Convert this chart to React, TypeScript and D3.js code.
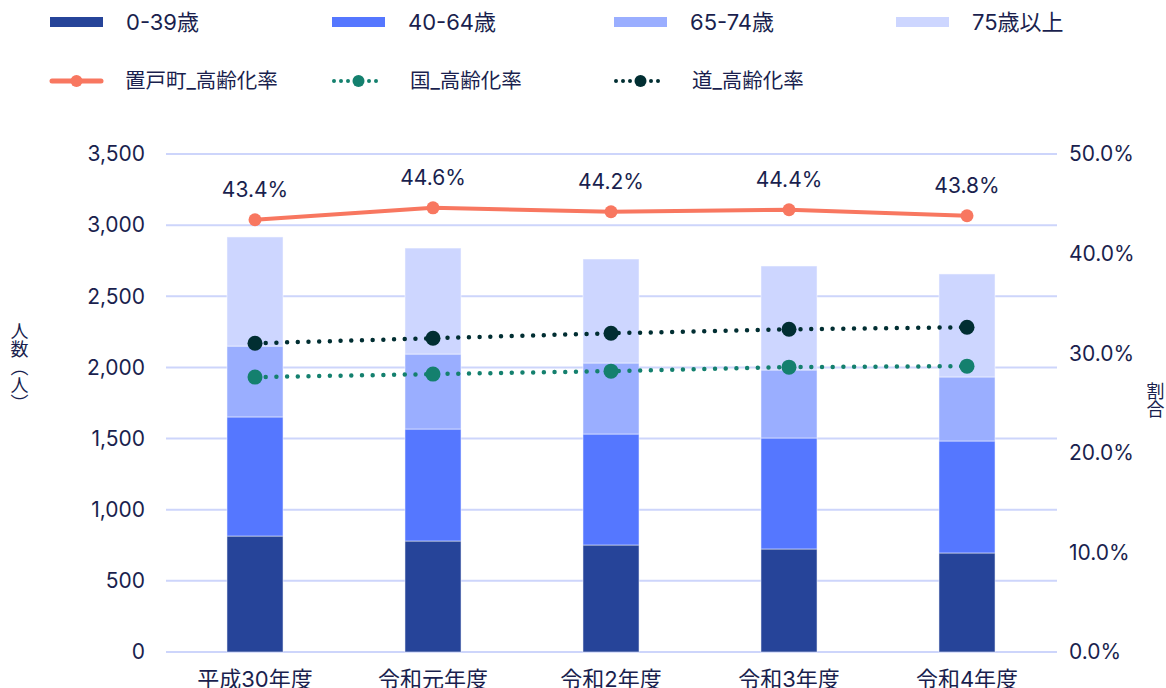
import React from "react";
import * as d3 from "d3";

const years = ["平成30年度", "令和元年度", "令和2年度", "令和3年度", "令和4年度"];
const age0_39 = [815, 780, 752, 724, 696];
const age40_64 = [837, 787, 780, 780, 787];
const age65_74 = [498, 527, 499, 478, 450];
const age75plus = [767, 745, 731, 731, 724];
const rateTown = [43.4, 44.6, 44.2, 44.4, 43.8];
const rateNation = [27.6, 27.9, 28.2, 28.6, 28.7];
const rateHokkaido = [31.0, 31.5, 32.0, 32.4, 32.6];
const leftTicks = [0, 500, 1000, 1500, 2000, 2500, 3000, 3500];
const rightTicks = [0, 10, 20, 30, 40, 50];

const barKeys = ["0-39歳", "40-64歳", "65-74歳", "75歳以上"];
const barColors = ["#264499", "#5577ff", "#9aaeff", "#cdd6ff"];
const lineNames = ["置戸町_高齢化率", "国_高齢化率", "道_高齢化率"];
const lineColors = ["#f87760", "#14806e", "#012e32"];

const W = 1166;
const H = 688;
const textColor = "#1a1f4e";
const font = "Inter, 'Noto Sans CJK JP', sans-serif";

export default function App() {
  const x = d3.scaleBand().domain(years).range([166, 1056]).paddingInner(0.685).paddingOuter(0.3425);
  const yL = d3.scaleLinear().domain([0, 3500]).range([652, 154]);
  const yR = d3.scaleLinear().domain([0, 50]).range([652, 154]);

  const rows = years.map((yr, i) => ({
    year: yr,
    [barKeys[0]]: age0_39[i],
    [barKeys[1]]: age40_64[i],
    [barKeys[2]]: age65_74[i],
    [barKeys[3]]: age75plus[i],
  }));
  const stacked = d3.stack<any>().keys(barKeys)(rows);

  const lines = [rateTown, rateNation, rateHokkaido];
  const cx = (i: number) => (x(years[i]) as number) + x.bandwidth() / 2;
  const lineGen = d3
    .line<number>()
    .x((_, i) => cx(i))
    .y((d) => yR(d));

  const fmt = d3.format(",");

  return (
    <svg width={W} height={H} style={{ position: "absolute", left: 0, top: 0 }} fontFamily={font}>
      {/* legend row 1 */}
      {barKeys.map((k, i) => (
        <g key={k} transform={`translate(${50 + i * 282},22)`}>
          <rect x={0} y={-5} width={53} height={10} fill={barColors[i]} />
          <text x={76} y={0} dy="0.35em" fontSize={22} fill={textColor}>
            {k}
          </text>
        </g>
      ))}
      {/* legend row 2 */}
      {lineNames.map((k, i) => (
        <g key={k} transform={`translate(${50 + i * 282},81)`}>
          <line
            x1={2}
            x2={51}
            y1={0}
            y2={0}
            stroke={lineColors[i]}
            strokeWidth={i === 0 ? 5 : 4}
            strokeLinecap="round"
            strokeDasharray={i === 0 ? undefined : "0 7"}
          />
          <circle cx={26.5} cy={0} r={6} fill={lineColors[i]} />
          <text x={i === 0 ? 75 : 78} y={0} dy="0.35em" fontSize={20.5} fill={textColor}>
            {k}
          </text>
        </g>
      ))}

      {/* grid */}
      {leftTicks.map((t) => (
        <line key={t} x1={166} x2={1057} y1={yL(t)} y2={yL(t)} stroke="#cdd5fb" strokeWidth={2} />
      ))}
      {leftTicks.map((t) => (
        <text key={"l" + t} x={145} y={yL(t)} dy="0.35em" textAnchor="end" fontSize={21} fill={textColor}>
          {fmt(t)}
        </text>
      ))}
      {rightTicks.map((t) => (
        <text key={"r" + t} x={1069} y={yR(t)} dy="0.35em" textAnchor="start" fontSize={21} fill={textColor}>
          {t.toFixed(1) + "%"}
        </text>
      ))}

      {/* axis titles */}
      <text x={18} y={367} fontSize={18} fill={textColor} textAnchor="middle" style={{ writingMode: "vertical-rl" } as any}>
        人数（人）
      </text>
      <text x={1154} y={400} fontSize={18} fill={textColor} textAnchor="middle" style={{ writingMode: "vertical-rl" } as any}>
        割合
      </text>

      {/* bars */}
      {stacked.map((s, si) => (
        <g key={s.key} fill={barColors[si]}>
          {s.map((d: any, i: number) => (
            <rect
              key={i}
              x={x(years[i])}
              width={x.bandwidth()}
              y={yL(d[1])}
              height={yL(d[0]) - yL(d[1])}
              stroke="#ffffff"
              strokeOpacity={0.5}
              strokeWidth={1}
            />
          ))}
        </g>
      ))}

      {/* x labels */}
      {years.map((yr, i) => (
        <text key={yr} x={cx(i)} y={679} dy="0.35em" textAnchor="middle" fontSize={22} fill={textColor}>
          {yr}
        </text>
      ))}

      {/* lines */}
      {lines.map((vals, li) => (
        <g key={li}>
          <path
            d={lineGen(vals) || ""}
            fill="none"
            stroke={lineColors[li]}
            strokeWidth={li === 0 ? 4 : 4.5}
            strokeLinecap="round"
            strokeDasharray={li === 0 ? undefined : "0 10.7"}
          />
          {vals.map((v, i) => (
            <circle key={i} cx={cx(i)} cy={yR(v)} r={li === 0 ? 6.5 : 7.5} fill={lineColors[li]} />
          ))}
        </g>
      ))}

      {/* town labels */}
      {rateTown.map((v, i) => (
        <text key={i} x={cx(i)} y={yR(v) - 30} dy="0.35em" textAnchor="middle" fontSize={21} fill={textColor}>
          {v.toFixed(1) + "%"}
        </text>
      ))}
    </svg>
  );
}
